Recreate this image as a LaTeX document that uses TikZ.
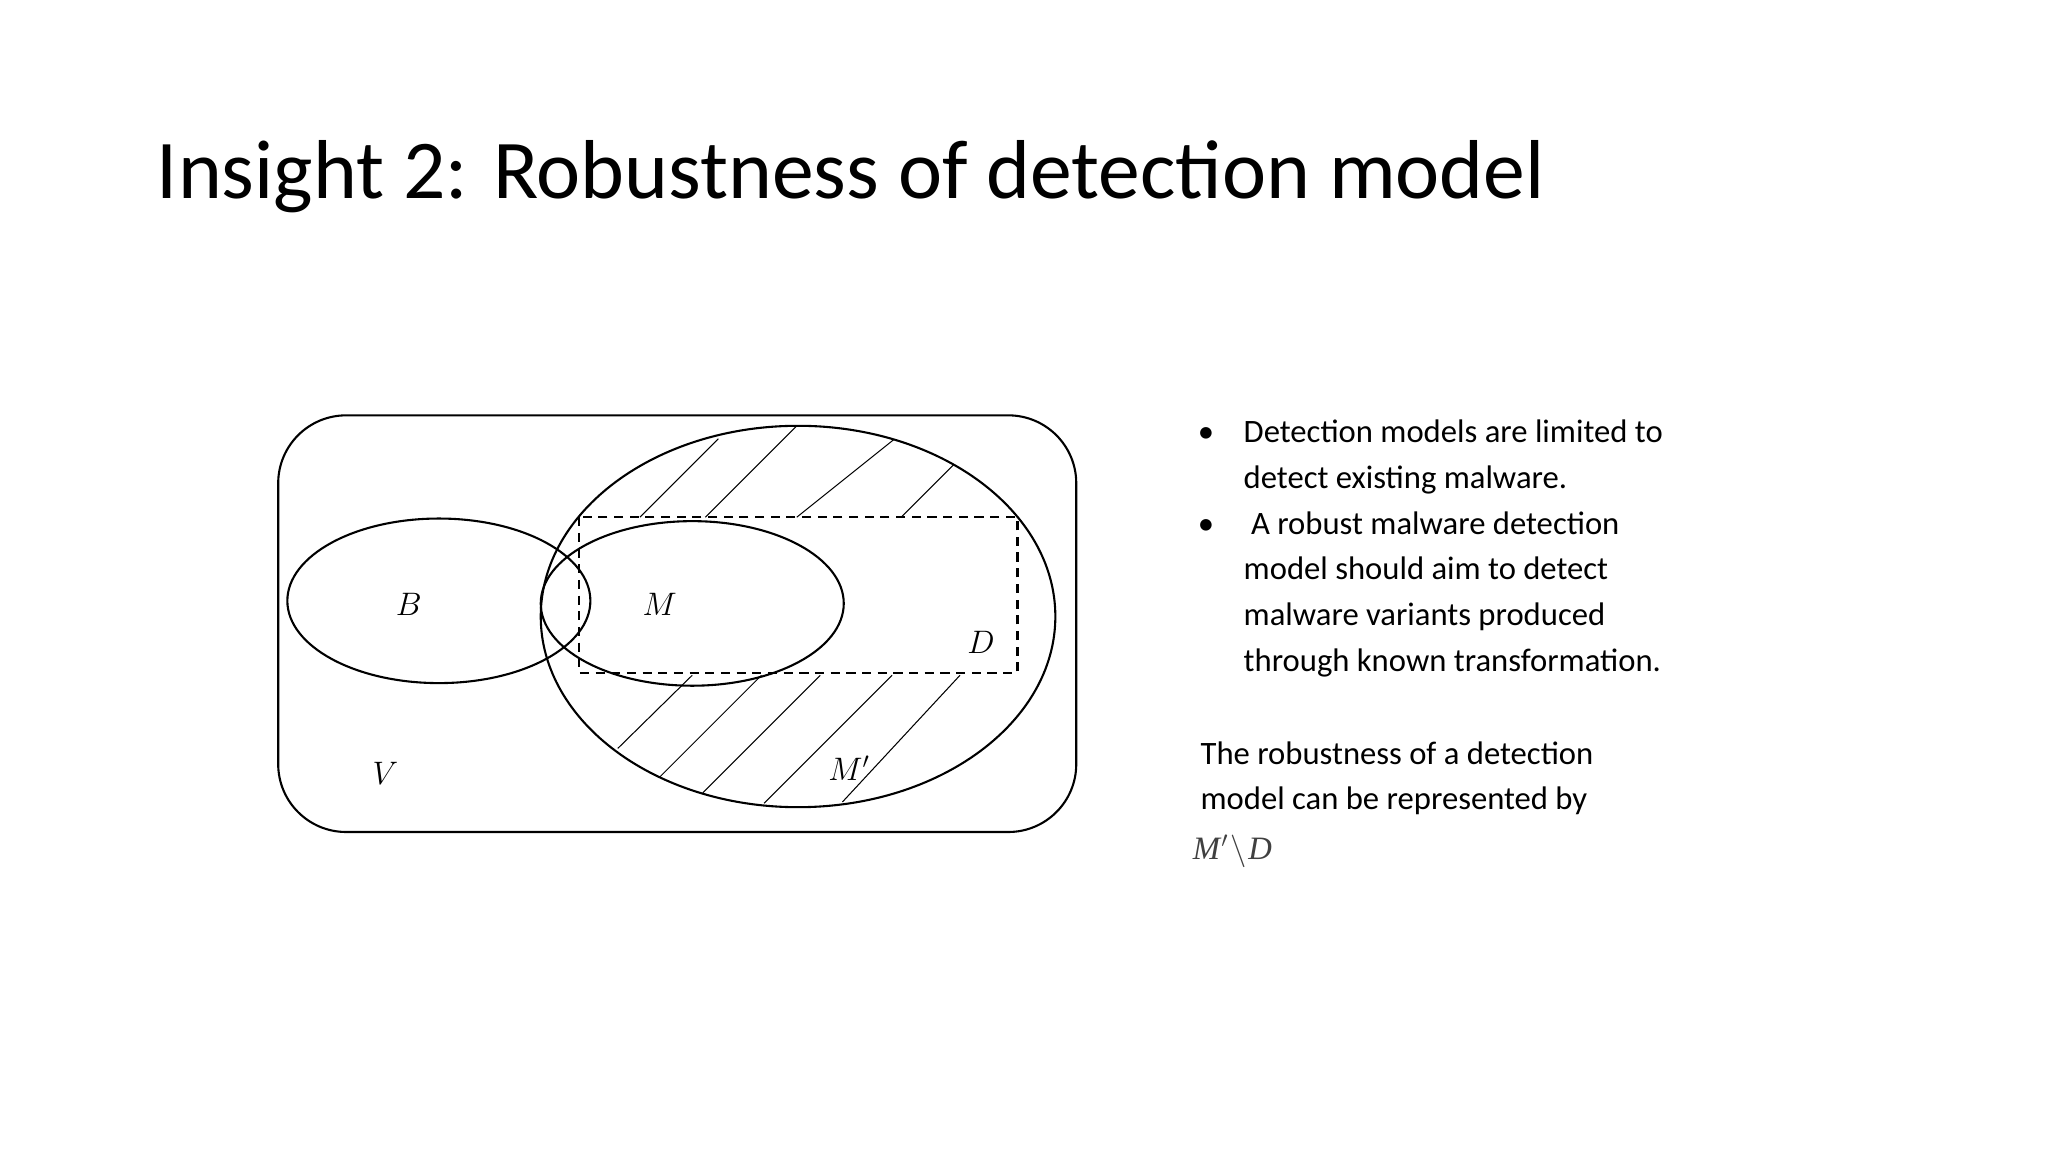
\documentclass[tikz,border=0pt]{standalone}
\usepackage{fontspec}
\setmainfont{Carlito}
\newfontfamily\lightfont{Carlito}
\newfontfamily\timesfont{Liberation Serif}
\begin{document}
\begin{tikzpicture}[x=1pt,y=-1pt,
  outl/.style={line width=1.6pt},
  hat/.style={line width=0.8pt},
  lbl/.style={font=\fontsize{26}{30}\selectfont},
  txt/.style={anchor=base west,font=\fontsize{25}{30}\selectfont,inner sep=0pt}]
\useasboundingbox[fill=white] (0,0) rectangle (1568,882);
\node[anchor=base west,inner sep=0pt,font=\lightfont\fontsize{64}{70}\selectfont] (title) at (120,152) {Insight 2: Robustness of detection model};
% hatching
\begin{scope}
\clip (611,472) ellipse [x radius=197,y radius=146];
\foreach \a/\b/\c/\d in {490/396/550/336, 540/396/610/326, 610/396/685/336, 690/396/730/356,
  473/573/530/517, 505/595/583/517, 538/607/628/517, 585/615/683/517, 645/614/735/517}
  \draw[hat] (\a,\b) -- (\c,\d);
\end{scope}
\draw[outl,rounded corners=52pt] (213,318) rectangle (824,637);
\draw[outl] (336,460) ellipse [x radius=116,y radius=63];
\draw[outl] (530,462) ellipse [x radius=116,y radius=63];
\draw[outl] (611,472) ellipse [x radius=197,y radius=146];
\draw[outl,dash pattern=on 7pt off 5pt] (443,396) rectangle (779,515);
\node[lbl] (B) at (313,463) {$B$};
\node[lbl] (M) at (505,463) {$M$};
\node[lbl] (D) at (751,492) {$D$};
\node[lbl] (V) at (295,592) {$V$};
\node[lbl] (Mp) at (650,588) {$M'$};
% text
\foreach \y in {339,409} \node[txt] at (917,\y) {•};
\node[txt] (t1) at (952,339) {Detection models are limited to};
\node[txt] (t2) at (952,374) {detect existing malware.};
\node[txt] (t3) at (952,409) {\ A robust malware detection};
\node[txt] (t4) at (952,444) {model should aim to detect};
\node[txt] (t5) at (952,479) {malware variants produced};
\node[txt] (t6) at (952,514) {through known transformation.};
\node[txt] (p1) at (919,585) {The robustness of a detection};
\node[txt] (p2) at (919,620) {model can be represented by};
\node[txt,text=black!75,font=\timesfont\itshape\fontsize{25}{30}\selectfont] (p3) at (913,658) {M\kern1pt$'$\kern2pt{\upshape$\setminus$}\kern1pt D};
\end{tikzpicture}
\end{document}
